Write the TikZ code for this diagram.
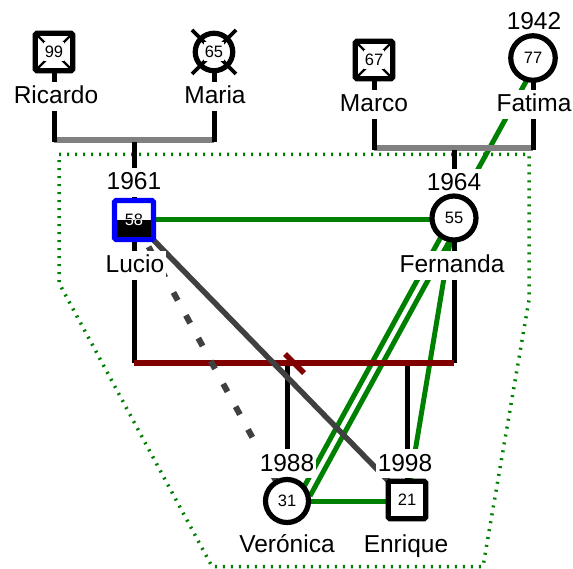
\documentclass[tikz,border=0pt]{standalone}
\usepackage{fontspec}
\setmainfont{Liberation Sans}
\usetikzlibrary{calc}
\definecolor{gline}{HTML}{008000}
\definecolor{dgray}{HTML}{404040}
\definecolor{bargray}{HTML}{808080}
\definecolor{maroonc}{HTML}{800000}
\definecolor{pblue}{HTML}{0000FF}
\pgfdeclarelayer{bg}
\pgfdeclarelayer{mid}
\pgfsetlayers{bg,mid,main}
\begin{document}
\begin{tikzpicture}[x=1pt,y=-1pt,
  male/.style={draw,line width=5.2pt,fill=white,minimum size=37.5pt,inner sep=0pt,rounded corners=1.5pt},
  female/.style={draw,circle,line width=5.2pt,fill=white,minimum size=43pt,inner sep=0pt},
  num/.style={font=\fontsize{16.5}{19}\selectfont,inner sep=1pt},
  numw/.style={num,fill=white,minimum height=19pt},
  lbl/.style={fill=white,inner xsep=1.5pt,inner ysep=1pt,text height=21pt,text depth=6pt,font=\fontsize{24.5}{28}\selectfont,anchor=base},
  famline/.style={line width=5pt,black},
  bar/.style={line width=5.5pt,bargray},
  redbar/.style={line width=5.5pt,maroonc},
  rel/.style={line width=5pt,gline},
  hostile/.style={line width=5.5pt,dgray},
  distant/.style={line width=6pt,dgray,dash pattern=on 9pt off 17pt,dash phase=21.5pt},
  cross/.style={line width=2.3pt,black},
  bigcross/.style={line width=3.8pt,black},
  household/.style={line width=3.5pt,gline,dash pattern=on 2pt off 6pt}
]
\useasboundingbox (0,0) rectangle (573,569);

% ---------- labels ----------
\node[lbl] (ricL) at (56,104) {Ricardo};
\node[lbl] (marL) at (215,104) {Maria};
\node[lbl] (mcoL) at (374,112) {Marco};
\node[lbl] (fatL) at (534,112) {Fatima};
\node[lbl] (fatY) at (534,30) {1942};
\node[lbl] (lucY) at (134,190) {1961};
\node[lbl] (lucL) at (135,273) {Lucio};
\node[lbl] (ferY) at (454,191) {1964};
\node[lbl] (ferL) at (452,273) {Fernanda};
\node[lbl] (verY) at (287,471) {1988};
\node[lbl] (enrY) at (405,471) {1998};
\node[lbl] (verL) at (287,552) {Verónica};
\node[lbl] (enrL) at (406,552) {Enrique};

% ---------- persons ----------
\node[male] (ric) at (54,52) {};
\node[female,minimum size=37.5pt] (mar) at (214,52) {};
\node[male] (mco) at (374,60) {};
\node[female,minimum size=44.5pt] (fat) at (533,58) {};
\node[male,draw=pblue,minimum size=39pt] (luc) at (134,220) {};
\node[female,minimum size=44pt] (fer) at (454,218) {};
\node[female,minimum size=43pt] (ver) at (287,501) {};
\node[male] (enr) at (407,500) {};

% deceased marks
\draw[cross] ($(ric.center)+(-16.5,-16.5)$) -- ($(ric.center)+(16.5,16.5)$);
\draw[cross] ($(ric.center)+(16.5,-16.5)$) -- ($(ric.center)+(-16.5,16.5)$);
\draw[cross] ($(mco.center)+(-16.5,-16.5)$) -- ($(mco.center)+(16.5,16.5)$);
\draw[cross] ($(mco.center)+(16.5,-16.5)$) -- ($(mco.center)+(-16.5,16.5)$);
\draw[bigcross] ($(mar.center)+(-22,-22)$) -- ($(mar.center)+(22,22)$);
\draw[bigcross] ($(mar.center)+(22,-22)$) -- ($(mar.center)+(-22,22)$);

% Lucio half fill
\fill[black] ($(luc.center)+(-17,0)$) rectangle ($(luc.center)+(17,17)$);

% ages
\node[numw] (ricN) at (ric.center) {99};
\node[numw] (marN) at (mar.center) {65};
\node[numw] (mcoN) at (mco.center) {67};
\node[num] (fatN) at (fat.center) {77};
\node[num] (lucN) at (luc.center) {58};
\begin{scope}
  \clip ($(luc.center)+(-17,0)$) rectangle ($(luc.center)+(17,17)$);
  \node[num,text=white] (lucNw) at (luc.center) {58};
\end{scope}
\node[num] (ferN) at (fer.center) {55};
\node[num] (verN) at (ver.center) {31};
\node[num] (enrN) at (enr.center) {21};

% ---------- coordinates for family lines ----------
\coordinate (b1) at (134,140);
\coordinate (b2) at (454,148);
\coordinate (b3) at (294,363);
\coordinate (tk) at (294.5,363.5);

% ---------- household boundary ----------
\begin{pgfonlayer}{bg}
\draw[household] (59,154.5) -- (529,154.5) -- (529,300) -- (483,566.5) -- (212,566.5) -- (59,283) -- cycle;
\end{pgfonlayer}

% ---------- connectors ----------
\begin{pgfonlayer}{mid}
% emotional relations (green)
\draw[rel] ($(fat.center)+(7,-2)$) -- ($(ver.center)+(12,-5)$);
\draw[rel] ($(fer.center)+(8,0)$) -- ($(ver.center)+(23,-5)$);
\draw[rel] (fer.center) -- (enr.center);
\draw[rel] (luc.center) -- (luc.center -| fer.center);
\draw[rel] (ver.center) -- (ver.center -| enr.center);

% couple bars
\draw[bar] (ric |- b1) -- (mar |- b1);
\draw[bar] (mco |- b2) -- (fat |- b2);
% parent lines
\draw[famline,shorten >=-2.5pt] (ric.center) -- (ric |- b1);
\draw[famline,shorten >=-2.5pt] (mar.center) -- (mar |- b1);
\draw[famline,shorten >=-2.5pt] (mco.center) -- (mco |- b2);
\draw[famline,shorten >=-2.5pt] (fat.center) -- (fat |- b2);
% child lines
\draw[famline,shorten <=2.5pt] (b1) -- (luc.center);
\draw[famline,shorten <=2.5pt] (b2) -- (fer.center);
\draw[famline] (luc.center) -- (luc |- b3);
\draw[famline] (fer.center) -- (fer |- b3);
\draw[famline] (ver |- b3) -- (ver.center);
\draw[famline] (enr |- b3) -- (enr.center);
% marriage bar
\draw[redbar] (luc |- b3) -- (fer |- b3);
\draw[redbar] ($(tk)+(-9.5,-9.5)$) -- ($(tk)+(9.5,9.5)$);

% hostile / distant
\draw[hostile] (luc.center) -- (enr.center);
\draw[distant] (luc.center) -- (ver.center);
\end{pgfonlayer}
\end{tikzpicture}
\end{document}
